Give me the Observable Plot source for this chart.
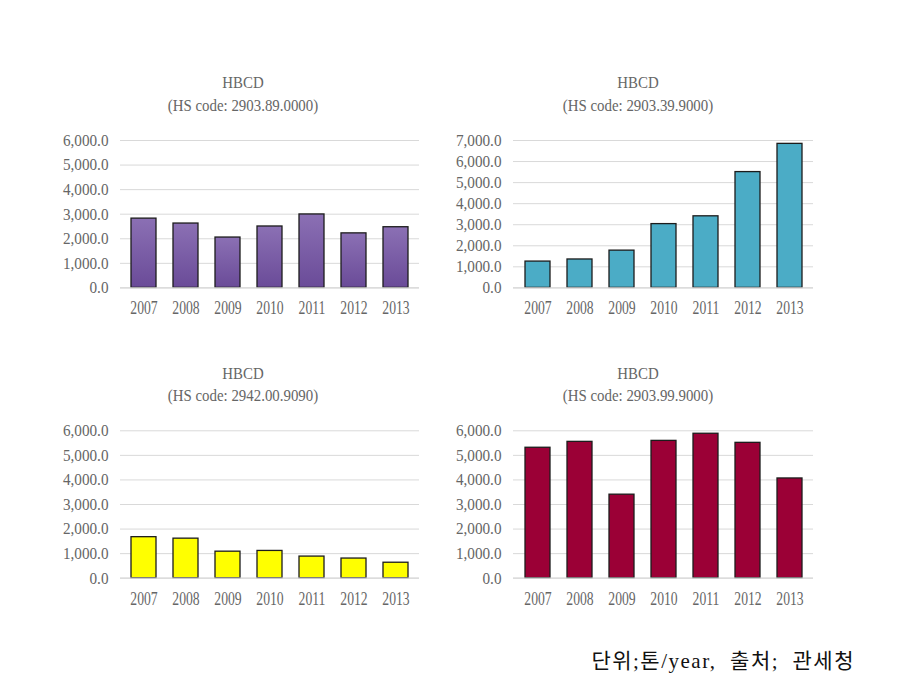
<!DOCTYPE html>
<html>
<head>
<meta charset="utf-8">
<script src="https://cdn.jsdelivr.net/npm/d3@7"></script>
<script src="https://cdn.jsdelivr.net/npm/@observablehq/plot@0.6"></script>
<style>
  html, body { margin: 0; padding: 0; background: #fff; }
  #root { position: relative; width: 910px; height: 692px; overflow: hidden; background: #fff; }
  .panel { position: absolute; }
  .ttl { position: absolute; width: 300px; text-align: center; font-family: "Liberation Serif", "DejaVu Serif", serif;
         font-size: 16px; line-height: 18px; color: #666; transform: scaleX(0.93); white-space: nowrap; }
  #caption { position: absolute; right: 55px; top: 648px; font-family: "Liberation Serif", "Noto Sans CJK KR", serif;
             font-size: 21px; line-height: 26px; color: #111; white-space: pre; letter-spacing: 1.5px; }
</style>
</head>
<body>
<div id="root"></div>
<script>
const years = ["2007", "2008", "2009", "2010", "2011", "2012", "2013"];
const titleText = "HBCD";
const hsCodes = ["(HS code: 2903.89.0000)", "(HS code: 2903.39.9000)", "(HS code: 2942.00.9090)", "(HS code: 2903.99.9000)"];
const values2903_89 = [2820, 2620, 2050, 2500, 2990, 2220, 2470];
const values2903_39 = [1250, 1350, 1770, 3030, 3400, 5500, 6840];
const values2942_00 = [1670, 1610, 1080, 1110, 880, 800, 630];
const values2903_99 = [5310, 5550, 3400, 5590, 5880, 5510, 4060];
const yTicks6 = [0, 1000, 2000, 3000, 4000, 5000, 6000];
const yTicks7 = [0, 1000, 2000, 3000, 4000, 5000, 6000, 7000];
const fills = ["url(#purpleGrad)", "#4bacc6", "#ffff00", "#9b0036"];
const captionText = "단위;톤/year,  출처;  관세청";

const root = document.getElementById("root");
const fmt = d3.format(",.1f");

const panels = [
  {values: values2903_89, ticks: yTicks6, fill: fills[0], code: hsCodes[0], left: 40,  top: 120, mL: 80, mR: 11, mT: 20,   tcx: 243, tTop: 74},
  {values: values2903_39, ticks: yTicks7, fill: fills[1], code: hsCodes[1], left: 430, top: 120, mL: 83, mR: 7,  mT: 20,   tcx: 638, tTop: 74},
  {values: values2942_00, ticks: yTicks6, fill: fills[2], code: hsCodes[2], left: 40,  top: 410, mL: 80, mR: 11, mT: 20.3, tcx: 243, tTop: 364.5},
  {values: values2903_99, ticks: yTicks6, fill: fills[3], code: hsCodes[3], left: 430, top: 410, mL: 83, mR: 7,  mT: 20.3, tcx: 638, tTop: 364.5}
];

function gradDefs() {
  const defs = d3.create("svg:defs");
  const g = defs.append("linearGradient").attr("id", "purpleGrad").attr("x1", 0).attr("y1", 0).attr("x2", 0).attr("y2", 1);
  g.append("stop").attr("offset", "0%").attr("stop-color", "#8b70b4");
  g.append("stop").attr("offset", "100%").attr("stop-color", "#6a4b98");
  return defs.node();
}

panels.forEach((p, i) => {
  const data = years.map((y, k) => ({year: y, value: p.values[k]}));
  const W = 390, H = 210;
  const plotH = 147.4;
  const chart = Plot.plot({
    width: W, height: H,
    marginLeft: p.mL, marginRight: p.mR, marginTop: p.mT, marginBottom: H - p.mT - plotH,
    x: {domain: years, paddingInner: 0.41, paddingOuter: 0.205, axis: null},
    y: {domain: [0, p.ticks[p.ticks.length - 1]], axis: null},
    style: {fontFamily: "'Liberation Serif', 'DejaVu Serif', serif", color: "#666", background: "transparent"},
    marks: [
      gradDefs,
      Plot.gridY(p.ticks, {stroke: "#d9d9d9", strokeOpacity: 1, strokeWidth: 1}),
      Plot.barY(data, {x: "year", y: "value", fill: p.fill, stroke: "#1c1c1c", strokeWidth: 1.3}),
      Plot.ruleY([0], {stroke: "#d9d9d9", strokeWidth: 1.2}),
      Plot.axisX({tickSize: 0, tickPadding: 13, fontSize: 19, label: null, fill: "#666"}),
      Plot.axisY(p.ticks, {tickSize: 0, tickPadding: 12, fontSize: 16, label: null, tickFormat: d => fmt(d), fill: "#666"})
    ]
  });
  chart.querySelectorAll('g[aria-label="x-axis tick label"] text').forEach(t => {
    t.setAttribute("transform", (t.getAttribute("transform") || "") + " scale(0.72,1)");
  });
  chart.querySelectorAll('g[aria-label="y-axis tick label"] text').forEach(t => {
    t.setAttribute("transform", (t.getAttribute("transform") || "") + " scale(0.95,1.05)");
  });
  const wrap = document.createElement("div");
  wrap.className = "panel";
  wrap.style.left = p.left + "px";
  wrap.style.top = p.top + "px";
  wrap.appendChild(chart);
  root.appendChild(wrap);

  const t1 = document.createElement("div");
  t1.className = "ttl";
  t1.textContent = titleText;
  t1.style.left = (p.tcx - 150) + "px";
  t1.style.top = p.tTop + "px";
  root.appendChild(t1);
  const t2 = document.createElement("div");
  t2.className = "ttl";
  t2.textContent = p.code;
  t2.style.left = (p.tcx - 150) + "px";
  t2.style.top = (p.tTop + 22.5) + "px";
  root.appendChild(t2);
});

const cap = document.createElement("div");
cap.id = "caption";
cap.textContent = captionText;
root.appendChild(cap);
</script>
</body>
</html>
